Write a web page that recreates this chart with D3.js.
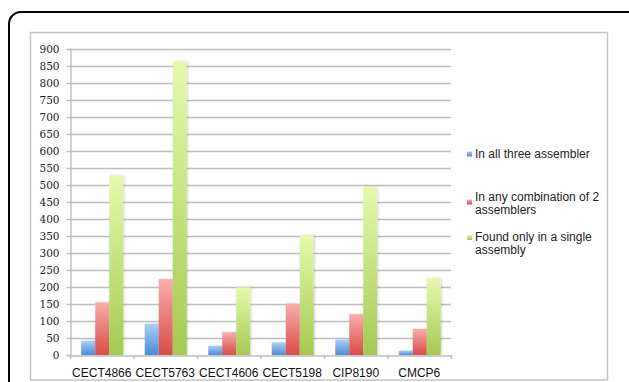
<!DOCTYPE html>
<html>
<head>
<meta charset="utf-8">
<script src="https://cdn.jsdelivr.net/npm/d3@7"></script>
<style>
  html, body { margin: 0; padding: 0; background: #fff; }
  svg { display: block; }
</style>
</head>
<body>
<svg id="chart" width="629" height="382"></svg>
<script>
// Strains on the x axis
const categories = ["CECT4866", "CECT5763", "CECT4606", "CECT5198", "CIP8190", "CMCP6"];
// Series values (number of sequences)
const allThree = [42, 92, 27, 37, 45, 13];
const anyTwo = [155, 223, 67, 151, 120, 77];
const singleOnly = [528, 864, 199, 352, 494, 225];
const seriesNames = ["In all three assembler", "In any combination of 2 assemblers", "Found only in a single assembly"];
const yTicks = [0, 50, 100, 150, 200, 250, 300, 350, 400, 450, 500, 550, 600, 650, 700, 750, 800, 850, 900];

const series = [allThree, anyTwo, singleOnly];
const gradients = [
  { id: "gBlue", top: "#aacff7", bottom: "#4d8bd6" },
  { id: "gRed", top: "#f8aeac", bottom: "#d94c47" },
  { id: "gGreen", top: "#e6f9ac", bottom: "#a3ca53" }
];

const svg = d3.select("#chart");
const defs = svg.append("defs");
gradients.forEach(g => {
  const lg = defs.append("linearGradient").attr("id", g.id)
    .attr("x1", 0).attr("y1", 0).attr("x2", 0).attr("y2", 1);
  lg.append("stop").attr("offset", "0%").attr("stop-color", g.top);
  lg.append("stop").attr("offset", "100%").attr("stop-color", g.bottom);
});
const shadow = defs.append("filter").attr("id", "shadow")
  .attr("x", "-30%").attr("y", "-10%").attr("width", "160%").attr("height", "120%");
shadow.append("feDropShadow").attr("dx", 1).attr("dy", 0).attr("stdDeviation", 0.8)
  .attr("flood-color", "#000").attr("flood-opacity", 0.18);

// Outer rounded frame
svg.append("rect")
  .attr("x", 9).attr("y", 12).attr("width", 640).attr("height", 400)
  .attr("rx", 12).attr("ry", 12)
  .attr("fill", "#fff").attr("stroke", "#000").attr("stroke-width", 2);

// Inner chart area border
svg.append("rect")
  .attr("x", 30.5).attr("y", 32.5).attr("width", 577).attr("height", 347.5)
  .attr("fill", "#fff").attr("stroke", "#c4c4c4").attr("stroke-width", 1.5);

const x = d3.scaleBand().domain(categories).range([70, 451]).paddingInner(0).paddingOuter(0);
const y = d3.scaleLinear().domain([0, 900]).range([355, 49]);
const xs = d3.scaleBand().domain(d3.range(series.length)).range([0, 42]);

// Horizontal gridlines
svg.append("g").selectAll("line").data(yTicks.slice(1)).join("line")
  .attr("x1", 70).attr("x2", 451)
  .attr("y1", d => Math.round(y(d)) + 0.5).attr("y2", d => Math.round(y(d)) + 0.5)
  .attr("stroke", "#bdbdbd").attr("stroke-width", 1.4);

// Y axis
const yAxis = d3.axisLeft(y).tickValues(yTicks).tickSize(4).tickPadding(7);
const gy = svg.append("g").attr("transform", "translate(70.5,0)").call(yAxis);
gy.select(".domain").attr("stroke", "#bdbdbd").attr("stroke-width", 1.4);
gy.selectAll(".tick line").attr("stroke", "#bdbdbd").attr("stroke-width", 1.4);
gy.selectAll(".tick text")
  .attr("font-family", "'DejaVu Serif', serif").attr("font-size", "10.5px").attr("fill", "#222");

// Bars
const groups = svg.append("g").selectAll("g").data(categories).join("g")
  .attr("transform", d => `translate(${x(d) + (x.bandwidth() - 42) / 2 + 0.5},0)`);
series.forEach((vals, si) => {
  groups.append("rect")
    .attr("x", xs(si))
    .attr("width", xs.bandwidth())
    .attr("y", (d, i) => y(vals[i]))
    .attr("height", (d, i) => y(0) - y(vals[i]))
    .attr("fill", `url(#${gradients[si].id})`)
    .attr("filter", "url(#shadow)");
});

// X axis
const xAxis = d3.axisBottom(x).tickSize(0).tickPadding(13);
const gx = svg.append("g").attr("transform", `translate(0,${y(0) + 0.5})`).call(xAxis);
gx.select(".domain").attr("stroke", "#bdbdbd").attr("stroke-width", 1.4);
gx.selectAll(".tick text")
  .attr("font-family", "'Liberation Sans', Arial, sans-serif").attr("font-size", "12px").attr("fill", "#111");
// Category boundary ticks
svg.append("g").selectAll("line").data(categories.concat(["end"])).join("line")
  .attr("x1", (d, i) => 70.5 + i * x.bandwidth()).attr("x2", (d, i) => 70.5 + i * x.bandwidth())
  .attr("y1", y(0)).attr("y2", y(0) + 4)
  .attr("stroke", "#bdbdbd").attr("stroke-width", 1.4);

// Legend
const legendItems = [
  { lines: ["In all three assembler"], textY: 158, boxY: 151.5 },
  { lines: ["In any combination of 2", "assemblers"], textY: 201, boxY: 199.5 },
  { lines: ["Found only in a single", "assembly"], textY: 241, boxY: 235 }
];
const legend = svg.append("g");
legendItems.forEach((item, i) => {
  legend.append("rect")
    .attr("x", 467).attr("y", item.boxY).attr("width", 5).attr("height", 5)
    .attr("fill", `url(#${gradients[i].id})`);
  const t = legend.append("text")
    .attr("x", 475).attr("y", item.textY)
    .attr("font-family", "'Liberation Sans', Arial, sans-serif").attr("font-size", "12px").attr("fill", "#222");
  item.lines.forEach((ln, j) => {
    t.append("tspan").attr("x", 475).attr("dy", j === 0 ? 0 : 13).text(ln);
  });
});
</script>
</body>
</html>
